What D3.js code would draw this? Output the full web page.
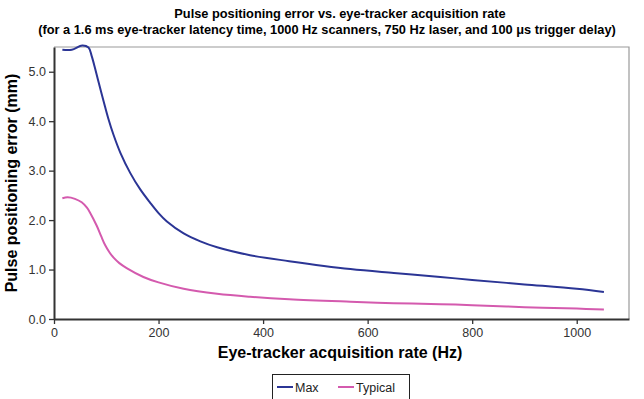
<!DOCTYPE html>
<html>
<head>
<meta charset="utf-8">
<script src="https://cdn.jsdelivr.net/npm/d3@7"></script>
<style>
  body { margin: 0; background: #fff; }
  svg { font-family: "Liberation Sans", Arial, sans-serif; }
</style>
</head>
<body>
<div id="chart"></div>
<script>
// Data
const maxRate = [16, 34, 54, 66, 72, 79, 85, 95, 104, 114, 127, 146, 165, 184, 200, 216, 248, 280, 312, 375, 450, 567, 650, 739, 800, 900, 1000, 1052];
const maxError = [5.445, 5.445, 5.53, 5.49, 5.32, 5.05, 4.80, 4.40, 4.05, 3.72, 3.36, 2.95, 2.62, 2.35, 2.14, 1.97, 1.73, 1.57, 1.45, 1.29, 1.17, 1.01, 0.93, 0.85, 0.79, 0.70, 0.61, 0.545];
const typRate = [16, 26, 40, 53, 63, 69, 82, 90, 98, 106, 114, 125, 139, 171, 200, 248, 312, 375, 450, 567, 650, 739, 800, 900, 1000, 1052];
const typError = [2.44, 2.46, 2.43, 2.36, 2.25, 2.15, 1.88, 1.68, 1.49, 1.35, 1.24, 1.13, 1.03, 0.85, 0.74, 0.61, 0.51, 0.45, 0.40, 0.35, 0.32, 0.30, 0.28, 0.24, 0.21, 0.19];
const xTicks = [0, 200, 400, 600, 800, 1000];
const yTicks = [0, 1, 2, 3, 4, 5];
const seriesNames = ['Max', 'Typical'];
const seriesColors = ['#2b3595', '#d45aae'];

const W = 644, H = 399;
const m = { left: 54, right: 15, top: 47, bottom: 80 };

const svg = d3.select('#chart').append('svg')
  .attr('width', W)
  .attr('height', H);

const x = d3.scaleLinear().domain([0, 1100]).range([m.left, W - m.right]);
const y = d3.scaleLinear().domain([0, 5.5]).range([H - m.bottom, m.top]);

// Titles
svg.append('text')
  .attr('x', 340).attr('y', 18)
  .attr('text-anchor', 'middle')
  .attr('font-size', 12.8).attr('font-weight', 'bold')
  .text('Pulse positioning error vs. eye-tracker acquisition rate');
svg.append('text')
  .attr('x', 327).attr('y', 34)
  .attr('text-anchor', 'middle')
  .attr('font-size', 12.8).attr('font-weight', 'bold')
  .text('(for a 1.6 ms eye-tracker latency time, 1000 Hz scanners, 750 Hz laser, and 100 \u03bcs trigger delay)');

// Plot frame (top and right)
svg.append('path')
  .attr('d', `M${x(0)},${y(5.5)}H${x(1100)}V${y(0)}`)
  .attr('fill', 'none')
  .attr('stroke', '#9a9a9a')
  .attr('stroke-width', 1.2);

// Axes
const xAxis = svg.append('g')
  .attr('transform', `translate(0,${y(0)})`)
  .call(d3.axisBottom(x).tickValues(xTicks).tickFormat(d3.format('d')).tickSize(5).tickPadding(4).tickSizeOuter(0));
const yAxis = svg.append('g')
  .attr('transform', `translate(${x(0)},0)`)
  .call(d3.axisLeft(y).tickValues(yTicks).tickFormat(d3.format('.1f')).tickSize(5).tickPadding(3).tickSizeOuter(0));

[xAxis, yAxis].forEach(g => {
  g.select('.domain').attr('stroke', '#333').attr('stroke-width', 2);
  g.selectAll('.tick line').attr('stroke', '#333').attr('stroke-width', 1.3);
  g.selectAll('.tick text').attr('fill', '#333').attr('font-size', 12.5)
    .attr('font-family', '"Liberation Sans", Arial, sans-serif');
});

// Axis titles
svg.append('text')
  .attr('x', 340).attr('y', 358)
  .attr('text-anchor', 'middle')
  .attr('font-size', 16).attr('font-weight', 'bold')
  .text('Eye-tracker acquisition rate (Hz)');
svg.append('text')
  .attr('transform', `translate(17,${(y(0) + y(5.5)) / 2}) rotate(-90)`)
  .attr('text-anchor', 'middle')
  .attr('font-size', 16).attr('font-weight', 'bold')
  .text('Pulse positioning error (mm)');

// Lines
const line = d3.line()
  .x(d => x(d[0]))
  .y(d => y(d[1]))
  .curve(d3.curveCatmullRom.alpha(0.5));

const series = [
  d3.zip(maxRate, maxError),
  d3.zip(typRate, typError)
];

series.forEach((s, i) => {
  svg.append('path')
    .datum(s)
    .attr('fill', 'none')
    .attr('stroke', seriesColors[i])
    .attr('stroke-width', 2)
    .attr('d', line);
});

// Legend
const legend = svg.append('g');
legend.append('rect')
  .attr('x', 272.5).attr('y', 374.5)
  .attr('width', 137).attr('height', 30)
  .attr('fill', '#fff')
  .attr('stroke', '#222').attr('stroke-width', 1);
const legX = [277, 338];
seriesNames.forEach((name, i) => {
  legend.append('line')
    .attr('x1', legX[i]).attr('x2', legX[i] + 16)
    .attr('y1', 387).attr('y2', 387)
    .attr('stroke', seriesColors[i]).attr('stroke-width', 2);
  legend.append('text')
    .attr('x', legX[i] + 18).attr('y', 391.5)
    .attr('font-size', 12.5).attr('fill', '#222')
    .text(name);
});
</script>
</body>
</html>
